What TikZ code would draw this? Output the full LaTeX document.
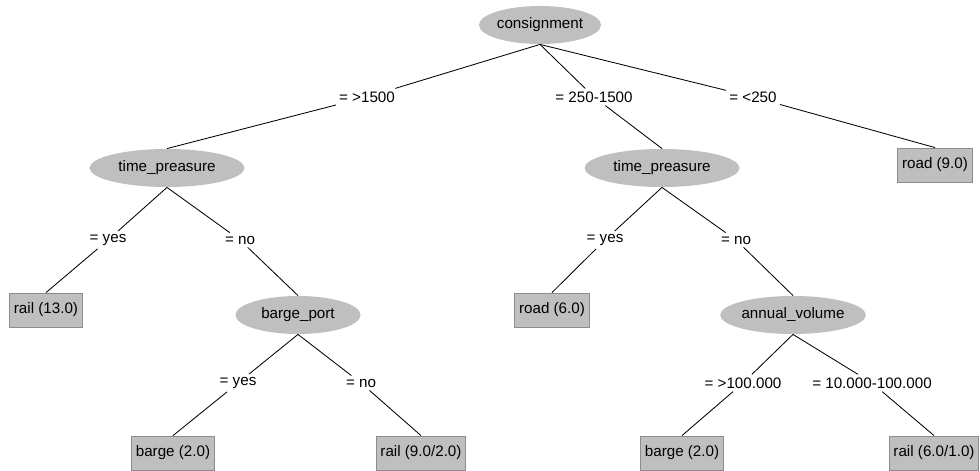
\documentclass[tikz,border=0pt]{standalone}
\usepackage{fontspec}
\setmainfont{Liberation Sans}
\usepackage{tikz}
\usetikzlibrary{shapes.geometric}

\tikzset{
  split/.style={ellipse,fill=black!25,minimum height=38*0.025cm,inner sep=0pt},
  leaf/.style={rectangle,fill=black!25,draw=black!45,minimum height=34*0.025cm,inner sep=3pt},
  branch/.style={fill=white,inner sep=2pt},
}

\begin{document}
\begin{tikzpicture}[x=0.025cm,y=-0.025cm,font=\fontsize{10.8}{13}\selectfont,line width=0.6pt]
		\useasboundingbox (0,0) rectangle (980,471);
		% splits
		\node[split,minimum width=122*0.025cm] (consignment) at (540,25) {consignment};
		\node[split,minimum width=155*0.025cm] (timeL) at (167,168) {time\_preasure};
		\node[split,minimum width=155*0.025cm] (timeR) at (662,168) {time\_preasure};
		\node[split,minimum width=125*0.025cm] (barge) at (298,315) {barge\_port};
		\node[split,minimum width=145*0.025cm] (volume) at (793,315) {annual\_volume};
		
		% leaves
		\node[leaf] (railA) at (46,310) {rail (13.0)};
		\node[leaf] (roadA) at (935,165) {road (9.0)};
		\node[leaf] (roadB) at (552,310) {road (6.0)};
		\node[leaf] (bargeA) at (173,453) {barge (2.0)};
		\node[leaf] (railB) at (421,453) {rail (9.0/2.0)};
		\node[leaf] (bargeB) at (682,453) {barge (2.0)};
		\node[leaf] (railC) at (934,453) {rail (6.0/1.0)};
		
		% branch labels
		\node[branch] (e1) at (367,97) {= >1500};
		\node[branch] (e2) at (594,97) {= 250-1500};
		\node[branch] (e3) at (753,97) {= <250};
		\node[branch] (e4) at (108,240) {= yes};
		\node[branch] (e5) at (240,240) {= no};
		\node[branch] (e6) at (605,240) {= yes};
		\node[branch] (e7) at (736,240) {= no};
		\node[branch] (e8) at (238,383) {= yes};
		\node[branch] (e9) at (361,383) {= no};
		\node[branch] (e10) at (743,383) {= >100.000};
		\node[branch] (e11) at (872,383) {= 10.000-100.000};
		
		\draw (consignment.south) -- (e1) -- (timeL.north);
		\draw (consignment.south) -- (e2) -- (timeR.north);
		\draw (consignment.south) -- (e3) -- (roadA.north);
		\draw (timeL.south) -- (e4) -- (railA.north);
		\draw (timeL.south) -- (e5) -- (barge.north);
		\draw (timeR.south) -- (e6) -- (roadB.north);
		\draw (timeR.south) -- (e7) -- (volume.north);
		\draw (barge.south) -- (e8) -- (bargeA.north);
		\draw (barge.south) -- (e9) -- (railB.north);
		\draw (volume.south) -- (e10) -- (bargeB.north);
		\draw (volume.south) -- (e11) -- (railC.north);
\end{tikzpicture}
\end{document}
